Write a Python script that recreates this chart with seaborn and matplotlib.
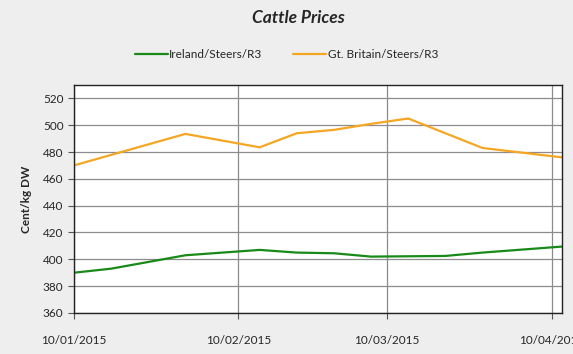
import numpy as np
import pandas as pd
import seaborn as sns
import matplotlib.pyplot as plt
import matplotlib.dates as mdates

# values
ire_dates = ['2015-01-10', '2015-01-17', '2015-01-31', '2015-02-14', '2015-02-21',
             '2015-02-28', '2015-03-07', '2015-03-21', '2015-03-28', '2015-04-12']
ire_vals = [390, 393, 403, 407, 405, 404.5, 402, 402.5, 405, 409.5]

gb_dates = ['2015-01-10', '2015-01-31', '2015-02-14', '2015-02-21', '2015-02-28',
            '2015-03-07', '2015-03-14', '2015-03-28', '2015-04-12']
gb_vals = [470, 493.5, 483.5, 494, 496.5, 501, 505, 483, 476]

series = ['Ireland/Steers/R3', 'Gt. Britain/Steers/R3']
colors = ['#188a18', '#f5a623']
tick_dates = ['2015-01-10', '2015-02-10', '2015-03-10', '2015-04-10']

df = pd.concat([
    pd.DataFrame({'date': pd.to_datetime(ire_dates), 'price': ire_vals, 'series': series[0]}),
    pd.DataFrame({'date': pd.to_datetime(gb_dates), 'price': gb_vals, 'series': series[1]}),
])

sns.set_style('white')
plt.rcParams['font.family'] = ['Lato', 'DejaVu Sans']

fig = plt.figure(figsize=(5.73, 3.54), dpi=100, facecolor='#eeeeee')
ax = fig.add_axes([0.129, 0.116, 0.852, 0.644])
ax.set_facecolor('white')

sns.lineplot(data=df, x='date', y='price', hue='series', palette=colors,
             linewidth=1.6, ax=ax, legend=False)

ax.set_ylim(360, 530)
ax.set_yticks(np.arange(360, 521, 20))
ax.set_xlim(pd.Timestamp('2015-01-10'), pd.Timestamp('2015-04-12'))
ax.set_xticks(pd.to_datetime(tick_dates))
ax.xaxis.set_major_formatter(mdates.DateFormatter('%d/%m/%Y'))
ax.grid(True, color='#8c8c8c', linewidth=0.9)
ax.set_axisbelow(True)
ax.tick_params(axis='both', length=4, color='#555555', labelsize=8.5, direction='out',
               bottom=True, left=True)
ax.tick_params(axis='x', pad=12)
for s in ax.spines.values():
    s.set_color('#222222')
    s.set_linewidth(1.0)

ax.set_xlabel('')
ax.set_ylabel('Cent/kg DW', fontsize=8.5, fontweight='bold', labelpad=8)

fig.text(0.52, 0.948, 'Cattle Prices', ha='center', va='center',
         fontsize=12.5, fontweight='bold', fontstyle='italic')

handles = [plt.Line2D([], [], color=c, linewidth=1.6) for c in colors]
fig.legend(handles, series, loc='center', bbox_to_anchor=(0.5, 0.847), ncol=2,
           frameon=False, fontsize=8.5, handlelength=2.8, handletextpad=0.1,
           columnspacing=2.6)

fig.savefig('out.png', dpi=100, facecolor=fig.get_facecolor())
